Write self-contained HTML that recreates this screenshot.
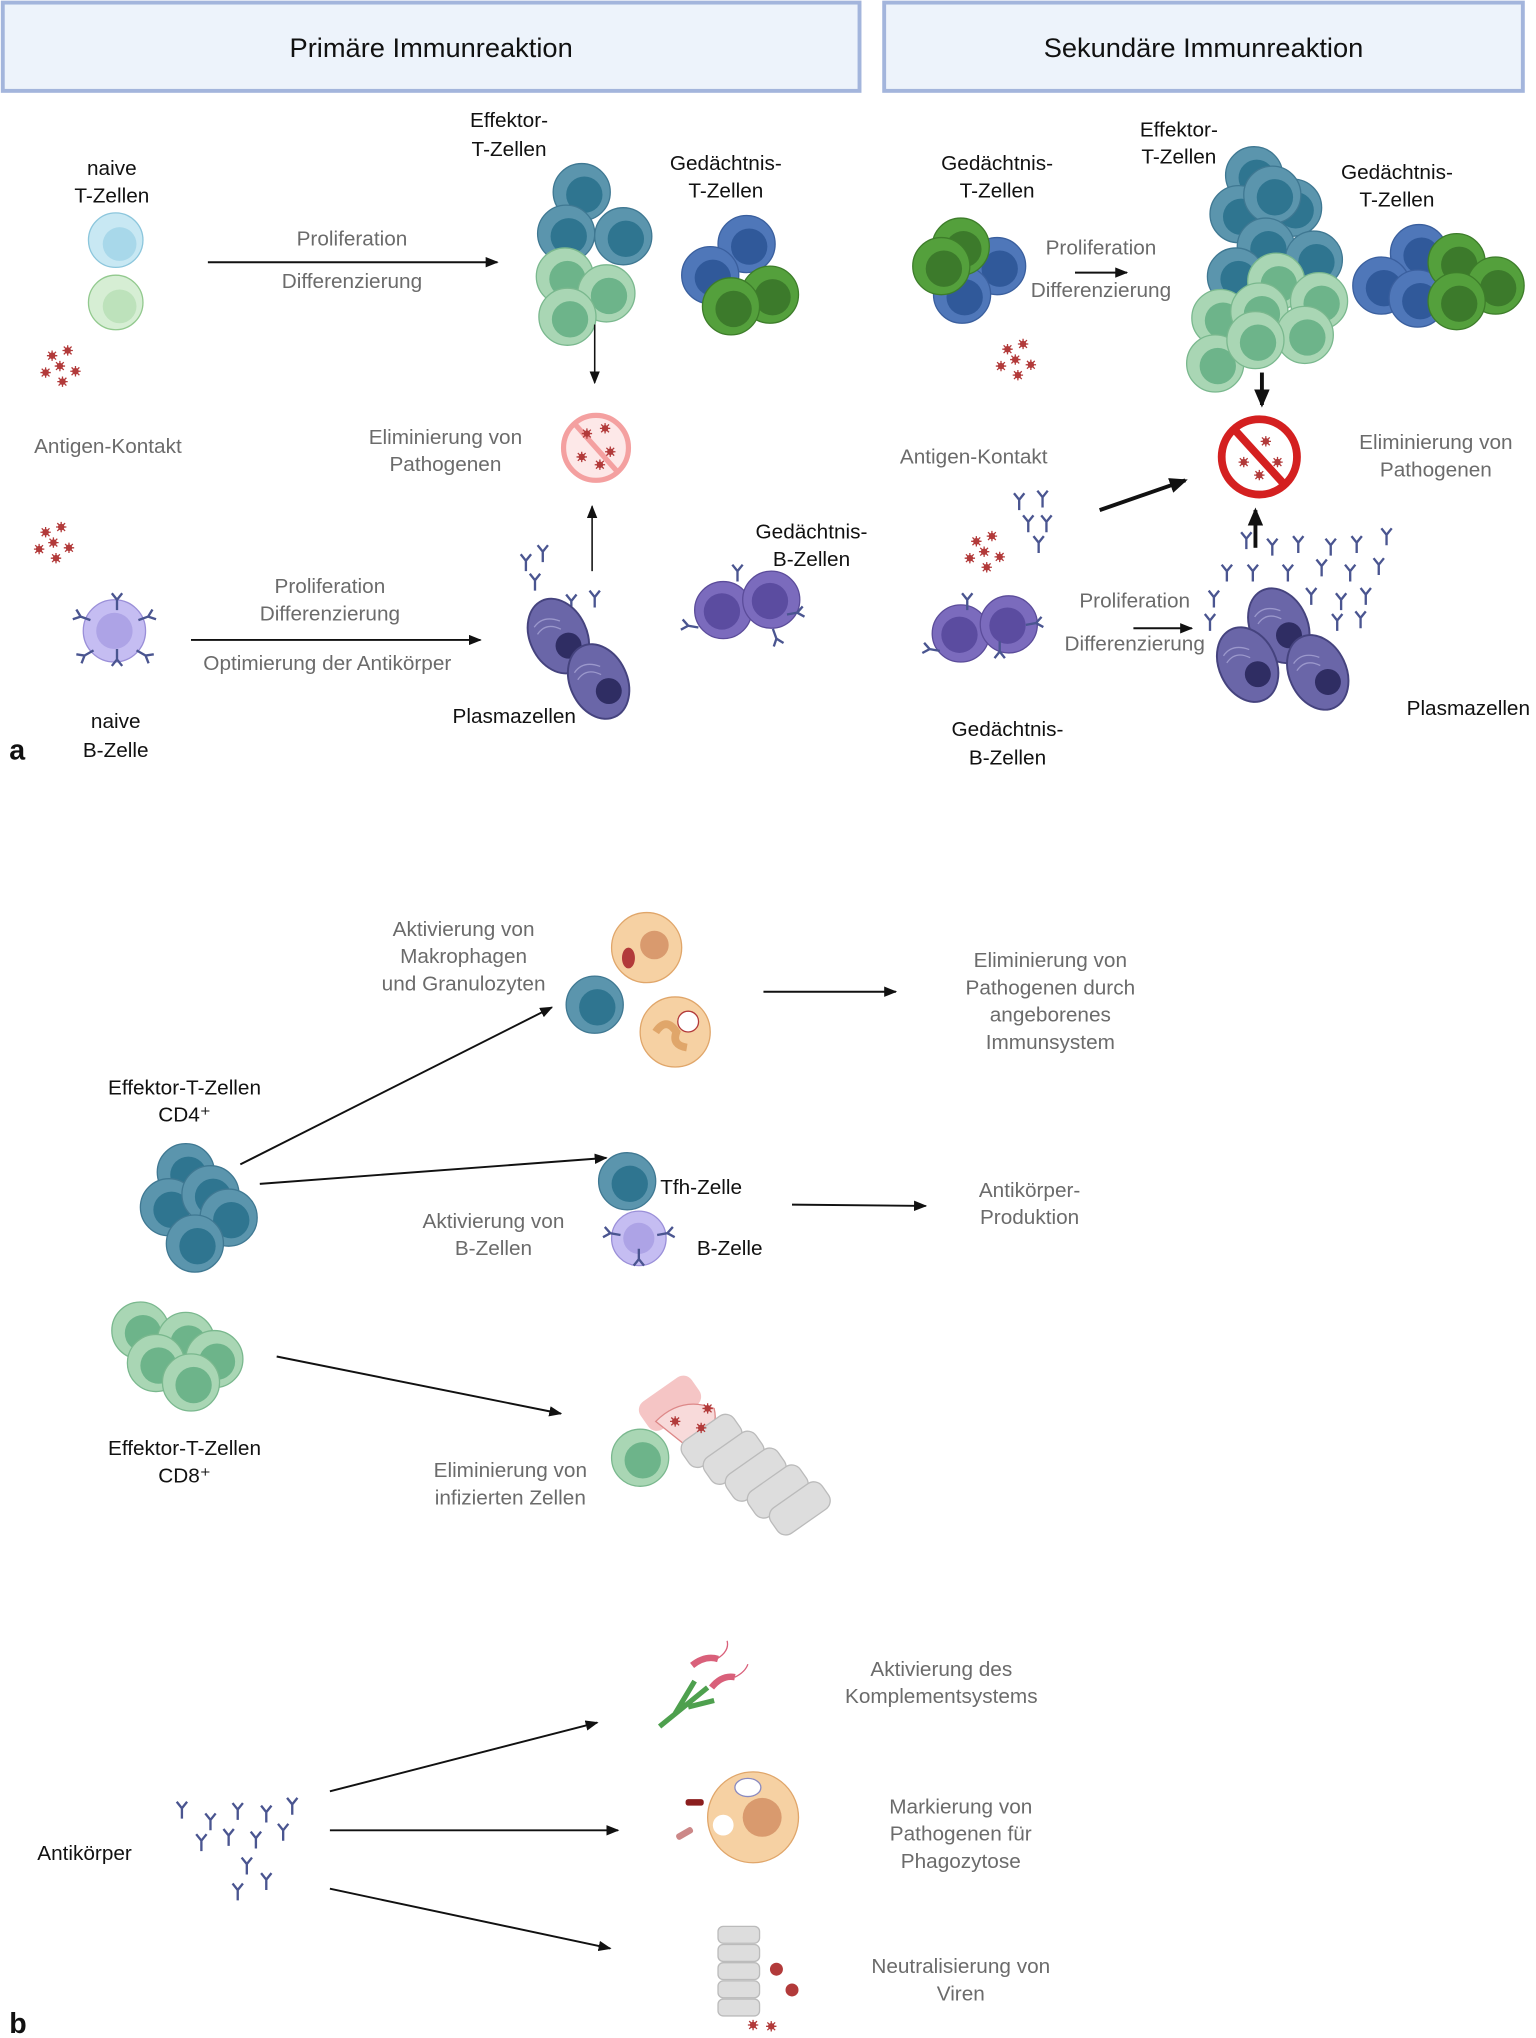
<!DOCTYPE html>
<html><head><meta charset="utf-8"><style>
html,body{margin:0;padding:0;background:#fff;}
svg{display:block;}
text{font-family:"Liberation Sans",sans-serif;font-size:16px;text-anchor:middle;}
.g{fill:#6b6b6b;}
.k{fill:#111;}
</style></head><body>
<svg width="1536" height="2038" viewBox="0 0 1183 1570" xmlns="http://www.w3.org/2000/svg">
<defs>
<marker id="ah" markerWidth="10" markerHeight="8" refX="9" refY="4" orient="auto" markerUnits="userSpaceOnUse"><path d="M0,0 L10,4 L0,8 Z" fill="#111"/></marker>
<marker id="ah2" markerWidth="14" markerHeight="12" refX="12" refY="6" orient="auto" markerUnits="userSpaceOnUse"><path d="M0,0 L14,6 L0,12 Z" fill="#111"/></marker>
<g id="teal"><circle r="22" fill="#5b95ad" stroke="#3f7892"/><circle cx="2" cy="2" r="14" fill="#2f7590"/></g>
<g id="lg"><circle r="22" fill="#a9d6b4" stroke="#7ab88e"/><circle cx="2" cy="2" r="14" fill="#6db48a"/></g>
<g id="bl"><circle r="22" fill="#4f77b9" stroke="#3a5f9e"/><circle cx="2" cy="2" r="14" fill="#30599a"/></g>
<g id="gr"><circle r="22" fill="#54a03c" stroke="#3d7d2a"/><circle cx="2" cy="2" r="14" fill="#3c7a2b"/></g>
<g id="bp"><circle r="22" fill="#7b6bbd" stroke="#5b4c9a"/><circle cx="-1" cy="1" r="14" fill="#5b4ca0"/></g>
<g id="ab"><path d="M0,8 V0 L-4,-5 M0,0 L4,-5" stroke="#4a5590" stroke-width="1.8" fill="none"/></g>
<g id="vi"><circle r="2.5" fill="#b23a3a"/><path d="M-4,0H4M0,-4V4M-3,-3L3,3M-3,3L3,-3" stroke="#b23a3a" stroke-width="1"/></g>
<g id="vs"><use href="#vi" x="10" y="-8"/><use href="#vi" x="22" y="-12"/><use href="#vi" x="5" y="5"/><use href="#vi" x="16" y="0"/><use href="#vi" x="28" y="4"/><use href="#vi" x="18" y="12"/></g>
<g id="pl"><ellipse rx="22" ry="30" fill="#6a66a8" stroke="#45437e" stroke-width="1.5"/><ellipse cx="4" cy="10" rx="10" ry="10" fill="#2f2d63"/><path d="M-14,-14 Q-4,-20 6,-10 M-14,-8 Q-4,-14 4,-4" stroke="#9b98cc" fill="none"/></g>
</defs>

<rect x="2" y="2" width="660" height="68" fill="#edf3fb" stroke="#a3b5dc" stroke-width="3"/>
<rect x="681" y="2" width="492" height="68" fill="#edf3fb" stroke="#a3b5dc" stroke-width="3"/>
<text x="332" y="44" class="k" style="font-size:21px">Primäre Immunreaktion</text>
<text x="927" y="44" class="k" style="font-size:21px">Sekundäre Immunreaktion</text>

<text x="86" y="135" class="k">naive</text><text x="86" y="156" class="k">T-Zellen</text>
<circle cx="89" cy="185" r="21" fill="#c8e8f3" stroke="#8cc6dc"/><circle cx="92" cy="188" r="13" fill="#a8d8ea"/>
<circle cx="89" cy="233" r="21" fill="#d6eed4" stroke="#92c98e"/><circle cx="92" cy="236" r="13" fill="#bde2bb"/>
<use href="#vs" x="30" y="282"/>
<line x1="160" y1="202" x2="383" y2="202" stroke="#111" stroke-width="1.5" marker-end="url(#ah)"/>
<text x="271" y="189" class="g">Proliferation</text><text x="271" y="222" class="g">Differenzierung</text>
<text x="392" y="98" class="k">Effektor-</text><text x="392" y="120" class="k">T-Zellen</text>
<use href="#teal" x="448" y="148"/><use href="#teal" x="436" y="180"/><use href="#teal" x="480" y="182"/>
<use href="#lg" x="435" y="213"/><use href="#lg" x="467" y="226"/><use href="#lg" x="437" y="244"/>
<line x1="458" y1="250" x2="458" y2="295" stroke="#111" stroke-width="1.2" marker-end="url(#ah)"/>
<text x="559" y="131" class="k">Gedächtnis-</text><text x="559" y="152" class="k">T-Zellen</text>
<use href="#bl" x="575" y="188"/><use href="#bl" x="547" y="212"/><use href="#gr" x="593" y="227"/><use href="#gr" x="563" y="236"/>
<text x="83" y="349" class="g">Antigen-Kontakt</text>
<text x="343" y="342" class="g">Eliminierung von</text><text x="343" y="363" class="g">Pathogenen</text>
<circle cx="459" cy="345" r="25" fill="#fde8e8" stroke="#f4a0a0" stroke-width="4"/><line x1="443" y1="327" x2="476" y2="364" stroke="#f4a0a0" stroke-width="4"/>
<use href="#vi" x="452" y="334"/><use href="#vi" x="466" y="330"/><use href="#vi" x="448" y="352"/><use href="#vi" x="470" y="348"/><use href="#vi" x="462" y="358"/>
<use href="#vs" x="25" y="418"/>
<circle cx="88" cy="486" r="24" fill="#c5bdf2" stroke="#9a8fd8"/><circle cx="88" cy="486" r="14" fill="#ada3e6"/>
<use href="#ab" x="90" y="462" /><use href="#ab" x="62" y="475" transform="rotate(-70 62 475)"/><use href="#ab" x="114" y="475" transform="rotate(70 114 475)"/><use href="#ab" x="65" y="505" transform="rotate(-120 65 505)"/><use href="#ab" x="112" y="505" transform="rotate(120 112 505)"/><use href="#ab" x="90" y="520" transform="rotate(180 90 514)"/>
<text x="89" y="561" class="k">naive</text><text x="89" y="583" class="k">B-Zelle</text>
<line x1="147" y1="493" x2="370" y2="493" stroke="#111" stroke-width="1.5" marker-end="url(#ah)"/>
<text x="254" y="457" class="g">Proliferation</text><text x="254" y="478" class="g">Differenzierung</text><text x="252" y="516" class="g">Optimierung der Antikörper</text>
<use href="#ab" x="405" y="432"/><use href="#ab" x="418" y="425"/><use href="#ab" x="412" y="447"/><use href="#ab" x="440" y="463"/><use href="#ab" x="458" y="460"/>
<use href="#pl" x="430" y="490" transform="rotate(-25 430 490)"/><use href="#pl" x="461" y="525" transform="rotate(-25 461 525)"/>
<line x1="456" y1="440" x2="456" y2="390" stroke="#111" stroke-width="1.2" marker-end="url(#ah)"/>
<text x="396" y="557" class="k">Plasmazellen</text>
<text x="625" y="415" class="k">Gedächtnis-</text><text x="625" y="436" class="k">B-Zellen</text>
<use href="#bp" x="557" y="470"/><use href="#bp" x="594" y="462"/>
<use href="#ab" x="568" y="440"/><use href="#ab" x="614" y="472" transform="rotate(80 614 472)"/><use href="#ab" x="530" y="482" transform="rotate(-80 530 482)"/><use href="#ab" x="598" y="492" transform="rotate(160 598 492)"/>
<text x="7" y="585" class="k" style="font-size:22px;font-weight:bold;text-anchor:start">a</text>

<text x="768" y="131" class="k">Gedächtnis-</text><text x="768" y="152" class="k">T-Zellen</text>
<use href="#bl" x="768" y="205"/><use href="#bl" x="741" y="227"/><use href="#gr" x="740" y="190"/><use href="#gr" x="725" y="205"/>
<text x="848" y="196" class="g">Proliferation</text><text x="848" y="229" class="g">Differenzierung</text>
<line x1="828" y1="210" x2="868" y2="210" stroke="#111" stroke-width="1.5" marker-end="url(#ah)"/>
<use href="#vs" x="766" y="277"/>
<text x="908" y="105" class="k">Effektor-</text><text x="908" y="126" class="k">T-Zellen</text>
<use href="#teal" x="966" y="135"/><use href="#teal" x="954" y="165"/><use href="#teal" x="996" y="160"/><use href="#teal" x="980" y="150"/><use href="#teal" x="975" y="190"/><use href="#teal" x="1012" y="200"/><use href="#teal" x="952" y="213"/>
<use href="#lg" x="983" y="217"/><use href="#lg" x="1016" y="232"/><use href="#lg" x="940" y="245"/><use href="#lg" x="970" y="240"/><use href="#lg" x="1005" y="258"/><use href="#lg" x="936" y="280"/><use href="#lg" x="967" y="262"/>
<line x1="972" y1="287" x2="972" y2="312" stroke="#111" stroke-width="3" marker-end="url(#ah2)"/>
<text x="1076" y="138" class="k">Gedächtnis-</text><text x="1076" y="159" class="k">T-Zellen</text>
<use href="#bl" x="1093" y="195"/><use href="#bl" x="1064" y="220"/><use href="#bl" x="1092" y="230"/><use href="#gr" x="1122" y="202"/><use href="#gr" x="1152" y="220"/><use href="#gr" x="1122" y="232"/>
<circle cx="970" cy="352" r="29" fill="#fff" stroke="#d42020" stroke-width="6"/><line x1="950" y1="330" x2="990" y2="374" stroke="#d42020" stroke-width="6"/>
<use href="#vi" x="975" y="340"/><use href="#vi" x="958" y="356"/><use href="#vi" x="970" y="366"/><use href="#vi" x="984" y="356"/>
<text x="1106" y="346" class="g">Eliminierung von</text><text x="1106" y="367" class="g">Pathogenen</text>
<text x="750" y="357" class="g">Antigen-Kontakt</text>
<line x1="847" y1="393" x2="913" y2="370" stroke="#111" stroke-width="3" marker-end="url(#ah2)"/>
<use href="#vs" x="742" y="425"/>
<use href="#ab" x="785" y="385"/><use href="#ab" x="803" y="383"/><use href="#ab" x="792" y="402"/><use href="#ab" x="806" y="402"/><use href="#ab" x="800" y="418"/>
<use href="#bp" x="740" y="488"/><use href="#bp" x="777" y="481"/>
<use href="#ab" x="745" y="462"/><use href="#ab" x="716" y="500" transform="rotate(-80 716 500)"/><use href="#ab" x="798" y="480" transform="rotate(80 798 480)"/><use href="#ab" x="770" y="510" transform="rotate(180 770 506)"/>
<text x="874" y="468" class="g">Proliferation</text><text x="874" y="501" class="g">Differenzierung</text>
<line x1="873" y1="484" x2="918" y2="484" stroke="#111" stroke-width="1.5" marker-end="url(#ah)"/>
<line x1="967" y1="422" x2="967" y2="393" stroke="#111" stroke-width="3" marker-end="url(#ah2)"/>
<use href="#pl" x="985" y="482" transform="rotate(-25 985 482)"/><use href="#pl" x="961" y="512" transform="rotate(-25 961 512)"/><use href="#pl" x="1015" y="518" transform="rotate(-25 1015 518)"/>
<use href="#ab" x="960" y="415"/><use href="#ab" x="980" y="420"/><use href="#ab" x="1000" y="418"/><use href="#ab" x="1025" y="420"/><use href="#ab" x="1045" y="418"/><use href="#ab" x="1068" y="412"/>
<use href="#ab" x="945" y="440"/><use href="#ab" x="965" y="440"/><use href="#ab" x="992" y="440"/><use href="#ab" x="1018" y="436"/><use href="#ab" x="1040" y="440"/><use href="#ab" x="1062" y="435"/>
<use href="#ab" x="935" y="460"/><use href="#ab" x="1010" y="458"/><use href="#ab" x="1033" y="462"/><use href="#ab" x="1052" y="458"/><use href="#ab" x="1030" y="478"/><use href="#ab" x="1048" y="476"/><use href="#ab" x="932" y="478"/>
<text x="1131" y="551" class="k">Plasmazellen</text>
<text x="776" y="567" class="k">Gedächtnis-</text><text x="776" y="589" class="k">B-Zellen</text>

<text x="357" y="721" class="g">Aktivierung von</text><text x="357" y="742" class="g">Makrophagen</text><text x="357" y="763" class="g">und Granulozyten</text>
<circle cx="498" cy="730" r="27" fill="#f6d1a3" stroke="#e0a66a"/><circle cx="504" cy="728" r="11" fill="#d99a6e"/><ellipse cx="484" cy="738" rx="5" ry="8" fill="#b23a3a"/>
<use href="#teal" x="458" y="774"/>
<circle cx="520" cy="795" r="27" fill="#f6d1a3" stroke="#e0a66a"/><circle cx="530" cy="787" r="8" fill="#fff" stroke="#b23a3a"/><path d="M505,795 q8,-12 16,0 q-4,10 8,12" stroke="#e0a66a" stroke-width="6" fill="none"/>
<line x1="588" y1="764" x2="690" y2="764" stroke="#111" stroke-width="1.5" marker-end="url(#ah)"/>
<text x="809" y="745" class="g">Eliminierung von</text><text x="809" y="766" class="g">Pathogenen durch</text><text x="809" y="787" class="g">angeborenes</text><text x="809" y="808" class="g">Immunsystem</text>
<text x="142" y="843" class="k">Effektor-T-Zellen</text><text x="142" y="864" class="k">CD4⁺</text>
<use href="#teal" x="143" y="903"/><use href="#teal" x="130" y="930"/><use href="#teal" x="162" y="920"/><use href="#teal" x="176" y="938"/><use href="#teal" x="150" y="958"/>
<line x1="185" y1="897" x2="425" y2="776" stroke="#111" stroke-width="1.5" marker-end="url(#ah)"/>
<line x1="200" y1="912" x2="467" y2="892" stroke="#111" stroke-width="1.5" marker-end="url(#ah)"/>
<use href="#teal" x="483" y="910"/><text x="540" y="920" class="k">Tfh-Zelle</text>
<circle cx="492" cy="954" r="21" fill="#c5bdf2" stroke="#9a8fd8"/><circle cx="492" cy="954" r="12" fill="#ada3e6"/>
<use href="#ab" x="470" y="950" transform="rotate(-80 470 950)"/><use href="#ab" x="514" y="950" transform="rotate(80 514 950)"/><use href="#ab" x="492" y="978" transform="rotate(180 492 974)"/>
<text x="562" y="967" class="k">B-Zelle</text>
<text x="380" y="946" class="g">Aktivierung von</text><text x="380" y="967" class="g">B-Zellen</text>
<line x1="610" y1="928" x2="713" y2="929" stroke="#111" stroke-width="1.5" marker-end="url(#ah)"/>
<text x="793" y="922" class="g">Antikörper-</text><text x="793" y="943" class="g">Produktion</text>
<use href="#lg" x="108" y="1025"/><use href="#lg" x="143" y="1033"/><use href="#lg" x="165" y="1047"/><use href="#lg" x="120" y="1050"/><use href="#lg" x="147" y="1065"/>
<text x="142" y="1121" class="k">Effektor-T-Zellen</text><text x="142" y="1142" class="k">CD8⁺</text>
<line x1="213" y1="1045" x2="432" y2="1089" stroke="#111" stroke-width="1.5" marker-end="url(#ah)"/>
<text x="393" y="1138" class="g">Eliminierung von</text><text x="393" y="1159" class="g">infizierten Zellen</text>
<rect x="492" y="1068" width="48" height="26" rx="8" fill="#f5c5c5" transform="rotate(-35 516 1081)"/>
<path d="M505,1095 q20,-20 45,-10 q5,20 -20,30 z" fill="#f8dada" stroke="#d88"/>
<g fill="#ddd" stroke="#bbb">
<rect x="524" y="1098" width="48" height="24" rx="8" transform="rotate(-35 548 1110)"/>
<rect x="541" y="1111" width="48" height="24" rx="8" transform="rotate(-35 565 1123)"/>
<rect x="558" y="1124" width="48" height="24" rx="8" transform="rotate(-35 582 1136)"/>
<rect x="575" y="1137" width="48" height="24" rx="8" transform="rotate(-35 599 1149)"/>
<rect x="592" y="1150" width="48" height="24" rx="8" transform="rotate(-35 616 1162)"/>
</g>
<use href="#vi" x="520" y="1095"/><use href="#vi" x="540" y="1100"/><use href="#vi" x="545" y="1085"/>
<use href="#lg" x="493" y="1123"/>
<text x="65" y="1433" class="k">Antikörper</text>
<use href="#ab" x="140" y="1393"/><use href="#ab" x="162" y="1402"/><use href="#ab" x="183" y="1394"/><use href="#ab" x="205" y="1396"/><use href="#ab" x="225" y="1390"/>
<use href="#ab" x="155" y="1418"/><use href="#ab" x="176" y="1414"/><use href="#ab" x="197" y="1416"/><use href="#ab" x="218" y="1410"/>
<use href="#ab" x="190" y="1436"/><use href="#ab" x="205" y="1448"/><use href="#ab" x="183" y="1456"/>
<line x1="254" y1="1380" x2="460" y2="1327" stroke="#111" stroke-width="1.5" marker-end="url(#ah)"/>
<line x1="254" y1="1410" x2="476" y2="1410" stroke="#111" stroke-width="1.5" marker-end="url(#ah)"/>
<line x1="254" y1="1455" x2="470" y2="1501" stroke="#111" stroke-width="1.5" marker-end="url(#ah)"/>
<path d="M508,1330 L545,1300 M520,1320 L535,1295 M530,1315 L550,1310" stroke="#4ea04e" stroke-width="4" fill="none"/>
<path d="M533,1283 q10,-8 20,-5 M548,1300 q8,-10 18,-8" stroke="#d9607a" stroke-width="5" fill="none"/>
<path d="M552,1278 q10,-6 8,-14 M566,1292 q8,-4 10,-10" stroke="#d9607a" stroke-width="1" fill="none"/>
<text x="725" y="1291" class="g">Aktivierung des</text><text x="725" y="1312" class="g">Komplementsystems</text>
<circle cx="580" cy="1400" r="35" fill="#f6d1a3" stroke="#e0a66a"/><circle cx="587" cy="1400" r="15" fill="#d99a6e"/><ellipse cx="576" cy="1377" rx="10" ry="7" fill="#fff" stroke="#8a8ac0"/>
<circle cx="557" cy="1406" r="8" fill="#fff"/>
<rect x="528" y="1386" width="14" height="5" rx="2" fill="#8b1e1e"/><rect x="520" y="1410" width="14" height="5" rx="2" fill="#c88" transform="rotate(-30 527 1412)"/>
<text x="740" y="1397" class="g">Markierung von</text><text x="740" y="1418" class="g">Pathogenen für</text><text x="740" y="1439" class="g">Phagozytose</text>
<g fill="#ddd" stroke="#bbb"><rect x="553" y="1484" width="32" height="13" rx="4"/><rect x="553" y="1498" width="32" height="13" rx="4"/><rect x="553" y="1512" width="32" height="13" rx="4"/><rect x="553" y="1526" width="32" height="13" rx="4"/><rect x="553" y="1540" width="32" height="13" rx="4"/></g>
<circle cx="598" cy="1517" r="5" fill="#b23a3a"/><circle cx="610" cy="1533" r="5" fill="#b23a3a"/><use href="#vi" x="594" y="1561"/><use href="#vi" x="580" y="1560"/>
<text x="740" y="1520" class="g">Neutralisierung von</text><text x="740" y="1541" class="g">Viren</text>
<text x="7" y="1566" class="k" style="font-size:22px;font-weight:bold;text-anchor:start">b</text>
</svg>
</body></html>
